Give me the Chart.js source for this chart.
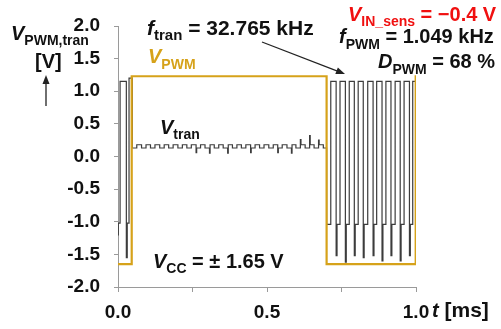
<!DOCTYPE html>
<html>
<head>
<meta charset="utf-8">
<script src="https://cdn.jsdelivr.net/npm/chart.js@4.4.1/dist/chart.umd.min.js"></script>
<style>
  html, body { margin: 0; padding: 0; background: #fff; }
  #wrap { width: 501px; height: 329px; position: relative; }
</style>
</head>
<body>
<div id="wrap"><canvas id="scope"></canvas></div>
<script>
// PWM output, stepped: value holds from each time until the next one
const pwmTime = [0.000, 0.046, 0.700, 0.999, 1.000];
const pwmVolt = [-1.65, 1.23, -1.65, 1.23, 1.23];

// transmitter signal, stepped as well
const tranTime = [
  0.000, 0.001, 0.007, 0.028, 0.031, 0.037,
  0.048, 0.063, 0.079, 0.094, 0.109, 0.124, 0.140, 0.155, 0.170, 0.185,
  0.201, 0.216, 0.231, 0.246, 0.262, 0.264, 0.277, 0.292, 0.307, 0.309,
  0.323, 0.338, 0.353, 0.368, 0.370, 0.384, 0.399, 0.414, 0.429, 0.445,
  0.447, 0.460, 0.475, 0.490, 0.506, 0.521, 0.536, 0.538, 0.551, 0.567,
  0.582, 0.584, 0.597, 0.612, 0.614, 0.628, 0.643, 0.645, 0.658, 0.673,
  0.675, 0.689,
  0.700, 0.714, 0.732, 0.735, 0.745, 0.763, 0.766, 0.776, 0.793, 0.796,
  0.806, 0.823, 0.826, 0.838, 0.856, 0.859, 0.868, 0.886, 0.889, 0.899,
  0.916, 0.919, 0.930, 0.947, 0.950, 0.960, 0.978, 0.981, 0.989, 1.000
];
const tranVolt = [
  -1.20, -1.02, 1.15, -1.55, -1.02, 1.20,
  0.13, 0.18, 0.13, 0.18, 0.13, 0.18, 0.13, 0.18, 0.13, 0.18,
  0.13, 0.18, 0.13, 0.18, 0.06, 0.13, 0.18, 0.13, 0.05, 0.18,
  0.13, 0.18, 0.13, 0.05, 0.18, 0.13, 0.18, 0.13, 0.18, 0.06,
  0.13, 0.18, 0.13, 0.18, 0.13, 0.18, 0.06, 0.13, 0.18, 0.13,
  0.05, 0.18, 0.13, 0.26, 0.18, 0.13, 0.32, 0.18, 0.13, 0.25,
  0.18, 0.13,
  -1.04, 1.15, -1.52, -1.04, 1.15, -1.62, -1.04, 1.15, -1.52, -1.04,
  1.15, -1.55, -1.04, 1.15, -1.52, -1.04, 1.15, -1.60, -1.04, 1.15,
  -1.52, -1.04, 1.15, -1.60, -1.04, 1.15, -1.52, -1.04, 1.15, 0.12
];

const xTicks = [0, 0.25, 0.5, 0.75, 1.0];
const xLabelled = [0, 0.5, 1.0];
const yTicks = [-2, -1.5, -1, -0.5, 0, 0.5, 1, 1.5, 2];

const FONT = '"Liberation Sans", Arial, sans-serif';
const AXIS = '#9a9a9a';
const GOLD = '#D6A21A';

function toPoints(ts, vs) {
  return ts.map((t, i) => ({ x: t, y: vs[i] }));
}

// text pieces: [text, size, italic, dy]
const notes = [
  { x: 11, y: 40, color: '#111', parts: [['V', 20, true], ['PWM,tran', 14, false, 5]] },
  { x: 35, y: 68, color: '#111', parts: [['[V]', 20]] },
  { x: 147, y: 35, color: '#111', parts: [['f', 21, true], ['tran', 15, false, 5], [' = 32.765 kHz', 21]] },
  { x: 348, y: 21, color: '#F01010', parts: [['V', 20, true], ['IN_sens', 14, false, 5], [' = \u22120.4 V', 20]] },
  { x: 339, y: 43, color: '#111', parts: [['f', 20, true], ['PWM', 14, false, 6], [' = 1.049 kHz', 20]] },
  { x: 378, y: 68, color: '#111', parts: [['D', 20, true], ['PWM', 14, false, 6], [' = 68 %', 20]] },
  { x: 148, y: 63, color: GOLD, parts: [['V', 20, true], ['PWM', 14, false, 6]] },
  { x: 160, y: 134, color: '#111', parts: [['V', 20, true], ['tran', 14, false, 5]] },
  { x: 153, y: 268, color: '#111', parts: [['V', 20, true], ['CC', 14, false, 5], [' = \u00b1 1.65 V', 20]] },
  { x: 432, y: 317, color: '#111', parts: [['t', 20, true], [' [ms]', 21]] }
];

function arrow(ctx, x1, y1, x2, y2) {
  const a = Math.atan2(y2 - y1, x2 - x1);
  ctx.beginPath();
  ctx.moveTo(x1, y1);
  ctx.lineTo(x2 - 6 * Math.cos(a), y2 - 6 * Math.sin(a));
  ctx.stroke();
  ctx.beginPath();
  ctx.moveTo(x2, y2);
  ctx.lineTo(x2 - 9 * Math.cos(a) + 3.5 * Math.sin(a), y2 - 9 * Math.sin(a) - 3.5 * Math.cos(a));
  ctx.lineTo(x2 - 9 * Math.cos(a) - 3.5 * Math.sin(a), y2 - 9 * Math.sin(a) + 3.5 * Math.cos(a));
  ctx.closePath();
  ctx.fill();
}

const notesPlugin = {
  id: 'notes',
  afterDraw(chart) {
    const ctx = chart.ctx;
    ctx.save();
    ctx.textBaseline = 'alphabetic';
    ctx.textAlign = 'left';
    for (const n of notes) {
      let cx = n.x;
      ctx.fillStyle = n.color;
      for (const [t, s, it, dy] of n.parts) {
        ctx.font = (it ? 'italic ' : '') + 'bold ' + s + 'px ' + FONT;
        ctx.fillText(t, cx, n.y + (dy || 0));
        cx += ctx.measureText(t).width;
      }
    }
    ctx.strokeStyle = '#222';
    ctx.fillStyle = '#222';
    ctx.lineWidth = 1.3;
    arrow(ctx, 46, 106, 46, 75);
    arrow(ctx, 262, 42, 345, 74);
    ctx.restore();
  }
};

new Chart('scope', {
  type: 'line',
  data: {
    datasets: [
      {
        label: 'Vtran',
        data: toPoints(tranTime, tranVolt),
        borderColor: '#3c3c3c',
        borderWidth: 1.2,
        stepped: true,
        pointRadius: 0,
        order: 2
      },
      {
        label: 'VPWM',
        data: toPoints(pwmTime, pwmVolt),
        borderColor: GOLD,
        borderWidth: 2.2,
        stepped: true,
        pointRadius: 0,
        order: 1
      }
    ]
  },
  options: {
    responsive: true,
    maintainAspectRatio: false,
    animation: false,
    layout: { padding: { left: 0, top: 26, right: 85, bottom: 0 } },
    plugins: { legend: { display: false }, tooltip: { enabled: false } },
    scales: {
      x: {
        type: 'linear',
        min: 0,
        max: 1,
        afterBuildTicks: (s) => { s.ticks = xTicks.map((v) => ({ value: v })); },
        afterFit: (s) => { s.height = 42; },
        ticks: {
          autoSkip: false,
          maxRotation: 0,
          padding: 9,
          color: '#111',
          font: { family: FONT, size: 19, weight: 'bold' },
          callback: (v) => (xLabelled.includes(v) ? v.toFixed(1) : '')
        },
        grid: { drawOnChartArea: false, tickLength: 5, color: AXIS },
        border: { color: AXIS }
      },
      y: {
        min: -2,
        max: 2,
        afterBuildTicks: (s) => { s.ticks = yTicks.map((v) => ({ value: v })); },
        afterFit: (s) => { s.width = 118; },
        ticks: {
          padding: 14,
          color: '#111',
          font: { family: FONT, size: 19, weight: 'bold' },
          callback: (v) => v.toFixed(1)
        },
        grid: { drawOnChartArea: false, tickLength: 4, color: AXIS },
        border: { color: AXIS }
      }
    }
  },
  plugins: [notesPlugin]
});
</script>
</body>
</html>
